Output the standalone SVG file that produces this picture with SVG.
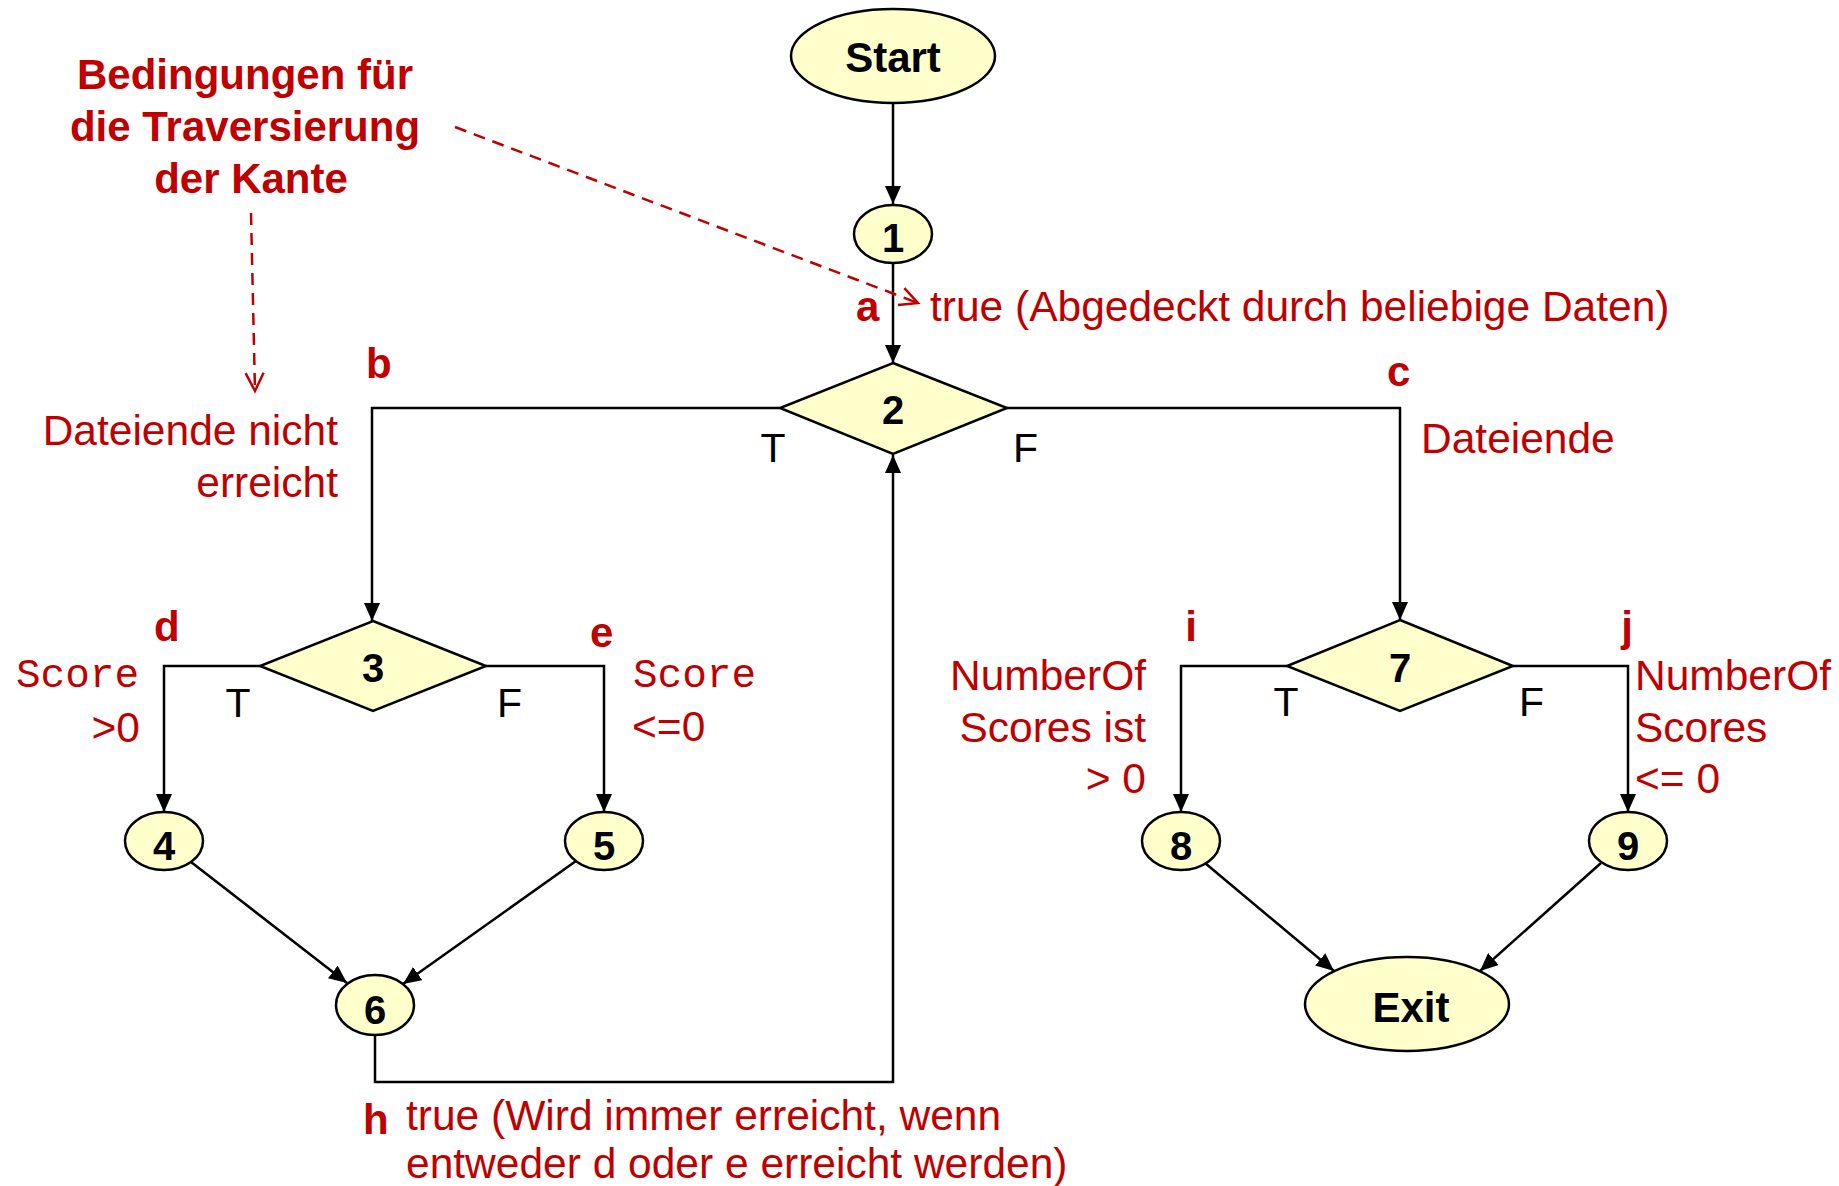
<svg xmlns="http://www.w3.org/2000/svg" width="1839" height="1186" viewBox="0 0 1839 1186">
<defs>
<marker id="arr" markerUnits="userSpaceOnUse" markerWidth="20" markerHeight="16" refX="18" refY="8" orient="auto">
<path d="M0,0 L18,8 L0,16 Z" fill="#000"/>
</marker>
<marker id="open" markerUnits="userSpaceOnUse" markerWidth="24" markerHeight="24" refX="21" refY="12" orient="auto">
<path d="M3,3 L21,12 L3,21" fill="none" stroke="#C00000" stroke-width="2.5"/>
</marker>
</defs>
<style>
.node{fill:#FFFFCC;stroke:#000;stroke-width:2.5}
.edge{fill:none;stroke:#000;stroke-width:2.5;marker-end:url(#arr)}
.dash{fill:none;stroke:#C00000;stroke-width:2.5;stroke-dasharray:12 8;marker-end:url(#open)}
.nl{font-family:"Liberation Sans",Arial,sans-serif;font-weight:bold;font-size:40px;fill:#000;text-anchor:middle}
.big{font-size:42px}
.tf{font-family:"Liberation Sans",Arial,sans-serif;font-size:41px;fill:#000}
.r{font-family:"Liberation Sans",Arial,sans-serif;font-size:42.5px;fill:#C00000}
.rb{font-family:"Liberation Sans",Arial,sans-serif;font-size:42px;font-weight:bold;fill:#C00000}
.m{font-family:"Liberation Mono","Courier New",monospace;font-size:41px;fill:#C00000}
</style>
<rect width="1839" height="1186" fill="#fff"/>

<g id="connectors">
<line class="edge" x1="893" y1="103" x2="893" y2="204"/>
<line class="edge" x1="893" y1="263" x2="893" y2="363"/>
<polyline class="edge" points="780,408 372,408 372,621"/>
<polyline class="edge" points="1007,408 1400,408 1400,620"/>
<polyline class="edge" points="260,666 164,666 164,812"/>
<polyline class="edge" points="486,666 604,666 604,812"/>
<line class="edge" x1="191" y1="862" x2="347" y2="983"/>
<line class="edge" x1="576" y1="861" x2="403" y2="984"/>
<polyline class="edge" points="375,1035 375,1082 893,1082 893,455"/>
<polyline class="edge" points="1287,666 1181,666 1181,812"/>
<polyline class="edge" points="1513,666 1628,666 1628,812"/>
<line class="edge" x1="1205" y1="863" x2="1334" y2="971"/>
<line class="edge" x1="1601" y1="863" x2="1480" y2="971"/>
<line class="dash" x1="455" y1="127" x2="918" y2="303"/>
<line class="dash" x1="251" y1="213" x2="255" y2="391"/>
</g>

<g id="start"><ellipse class="node" cx="893" cy="56" rx="102" ry="47"/><text class="nl big" x="893" y="72">Start</text></g>
<g id="n1"><ellipse class="node" cx="893" cy="234" rx="39" ry="29"/><text class="nl" x="893" y="252">1</text></g>
<g id="n2"><polygon class="node" points="893,363 1007,408 893,454 780,408"/><text class="nl" x="893" y="424">2</text></g>
<g id="n3"><polygon class="node" points="373,621 486,666 373,711 260,666"/><text class="nl" x="373" y="682">3</text></g>
<g id="n4"><ellipse class="node" cx="164" cy="841" rx="39" ry="29"/><text class="nl" x="164" y="860">4</text></g>
<g id="n5"><ellipse class="node" cx="604" cy="841" rx="39" ry="29"/><text class="nl" x="604" y="860">5</text></g>
<g id="n6"><ellipse class="node" cx="375" cy="1005" rx="39" ry="30"/><text class="nl" x="375" y="1024">6</text></g>
<g id="n7"><polygon class="node" points="1400,620 1513,666 1400,711 1287,666"/><text class="nl" x="1400" y="682">7</text></g>
<g id="n8"><ellipse class="node" cx="1181" cy="841" rx="39" ry="29"/><text class="nl" x="1181" y="860">8</text></g>
<g id="n9"><ellipse class="node" cx="1628" cy="841" rx="39" ry="29"/><text class="nl" x="1628" y="860">9</text></g>
<g id="exit"><ellipse class="node" cx="1407" cy="1004" rx="102" ry="47"/><text class="nl big" x="1411" y="1022">Exit</text></g>

<g id="labels">
<text class="rb" x="245" y="89" text-anchor="middle">Bedingungen für</text>
<text class="rb" x="245" y="141" text-anchor="middle">die Traversierung</text>
<text class="rb" x="251" y="193" text-anchor="middle">der Kante</text>

<text class="rb" x="856" y="321">a</text>
<text class="r" x="930" y="321">true (Abgedeckt durch beliebige Daten)</text>

<text class="rb" x="366" y="378">b</text>
<text class="r" x="338" y="445" text-anchor="end">Dateiende nicht</text>
<text class="r" x="338" y="497" text-anchor="end">erreicht</text>

<text class="rb" x="1387" y="386">c</text>
<text class="r" x="1421" y="453">Dateiende</text>

<text class="tf" x="773" y="462" text-anchor="middle">T</text>
<text class="tf" x="1013" y="462">F</text>

<text class="rb" x="154" y="641">d</text>
<text class="rb" x="590" y="647">e</text>
<text class="m" x="139" y="687" text-anchor="end">Score</text>
<text class="r" x="140" y="742" text-anchor="end">&gt;0</text>
<text class="m" x="633" y="687">Score</text>
<text class="r" x="632" y="741">&lt;=0</text>
<text class="tf" x="238" y="717" text-anchor="middle">T</text>
<text class="tf" x="497" y="717">F</text>

<text class="rb" x="1191" y="641" text-anchor="middle">i</text>
<text class="rb" x="1627" y="641" text-anchor="middle">j</text>
<text class="r" x="1146" y="690" text-anchor="end">NumberOf</text>
<text class="r" x="1146" y="742" text-anchor="end">Scores ist</text>
<text class="r" x="1146" y="793" text-anchor="end">&gt; 0</text>
<text class="r" x="1635" y="690">NumberOf</text>
<text class="r" x="1635" y="742">Scores</text>
<text class="r" x="1635" y="793">&lt;= 0</text>
<text class="tf" x="1286" y="716" text-anchor="middle">T</text>
<text class="tf" x="1519" y="716">F</text>

<text class="rb" x="363" y="1134">h</text>
<text class="r" x="406" y="1130">true (Wird immer erreicht, wenn</text>
<text class="r" x="406" y="1178">entweder d oder e erreicht werden)</text>
</g>
</svg>
